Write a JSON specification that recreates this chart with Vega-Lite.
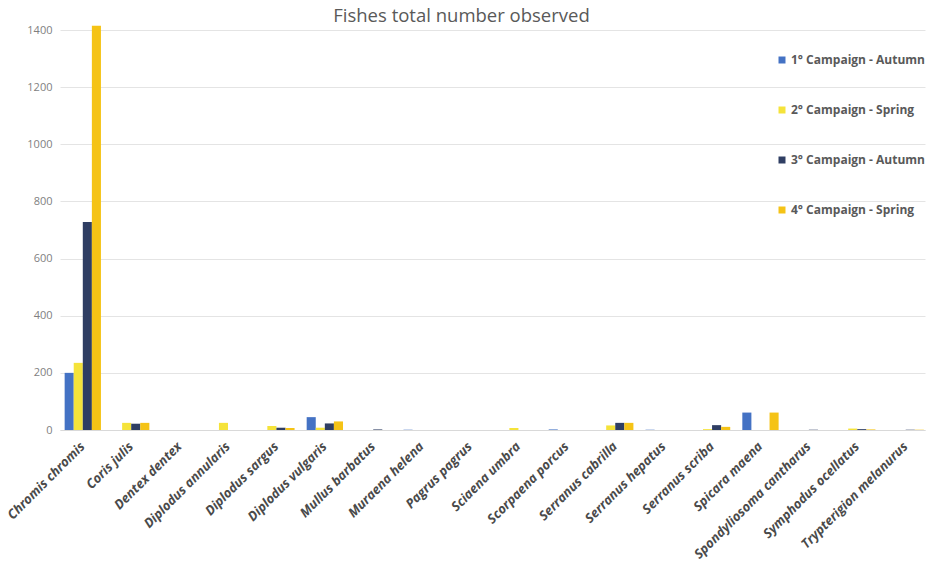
{
  "$schema": "https://vega.github.io/schema/vega-lite/v6.json",
  "autosize": "none",
  "padding": {"left": 60, "top": 30, "right": 3, "bottom": 138},
  "width": 865,
  "height": 400,
  "background": "white",
  "title": {"text": "Fishes total number observed", "fontSize": 18.5, "fontWeight": "normal", "color": "#595959", "font": "Open Sans", "anchor": "middle", "dx": -31, "offset": -1},
  "data": {"values": [
    {"species": "Chromis chromis", "campaign": "1° Campaign - Autumn", "n": 200},
    {"species": "Chromis chromis", "campaign": "2° Campaign - Spring", "n": 235},
    {"species": "Chromis chromis", "campaign": "3° Campaign - Autumn", "n": 728},
    {"species": "Chromis chromis", "campaign": "4° Campaign -  Spring", "n": 1415},
    {"species": "Coris julis", "campaign": "2° Campaign - Spring", "n": 25},
    {"species": "Coris julis", "campaign": "3° Campaign - Autumn", "n": 22},
    {"species": "Coris julis", "campaign": "4° Campaign -  Spring", "n": 25},
    {"species": "Dentex dentex", "campaign": "1° Campaign - Autumn", "n": 0},
    {"species": "Diplodus annularis", "campaign": "2° Campaign - Spring", "n": 25},
    {"species": "Diplodus sargus", "campaign": "2° Campaign - Spring", "n": 14},
    {"species": "Diplodus sargus", "campaign": "3° Campaign - Autumn", "n": 8},
    {"species": "Diplodus sargus", "campaign": "4° Campaign -  Spring", "n": 7},
    {"species": "Diplodus vulgaris", "campaign": "1° Campaign - Autumn", "n": 45},
    {"species": "Diplodus vulgaris", "campaign": "2° Campaign - Spring", "n": 8},
    {"species": "Diplodus vulgaris", "campaign": "3° Campaign - Autumn", "n": 23},
    {"species": "Diplodus vulgaris", "campaign": "4° Campaign -  Spring", "n": 30},
    {"species": "Mullus barbatus", "campaign": "3° Campaign - Autumn", "n": 2},
    {"species": "Muraena helena", "campaign": "1° Campaign - Autumn", "n": 1},
    {"species": "Pagrus pagrus", "campaign": "1° Campaign - Autumn", "n": 0},
    {"species": "Sciaena umbra", "campaign": "2° Campaign - Spring", "n": 7},
    {"species": "Scorpaena porcus", "campaign": "1° Campaign - Autumn", "n": 2},
    {"species": "Serranus cabrilla", "campaign": "2° Campaign - Spring", "n": 16},
    {"species": "Serranus cabrilla", "campaign": "3° Campaign - Autumn", "n": 25},
    {"species": "Serranus cabrilla", "campaign": "4° Campaign -  Spring", "n": 25},
    {"species": "Serranus hepatus", "campaign": "1° Campaign - Autumn", "n": 1},
    {"species": "Serranus scriba", "campaign": "2° Campaign - Spring", "n": 3},
    {"species": "Serranus scriba", "campaign": "3° Campaign - Autumn", "n": 17},
    {"species": "Serranus scriba", "campaign": "4° Campaign -  Spring", "n": 11},
    {"species": "Spicara maena", "campaign": "1° Campaign - Autumn", "n": 61},
    {"species": "Spicara maena", "campaign": "4° Campaign -  Spring", "n": 61},
    {"species": "Spondyliosoma cantharus", "campaign": "3° Campaign - Autumn", "n": 1},
    {"species": "Symphodus ocellatus", "campaign": "2° Campaign - Spring", "n": 5},
    {"species": "Symphodus ocellatus", "campaign": "3° Campaign - Autumn", "n": 3},
    {"species": "Symphodus ocellatus", "campaign": "4° Campaign -  Spring", "n": 2},
    {"species": "Trypterigion melanurus", "campaign": "3° Campaign - Autumn", "n": 1},
    {"species": "Trypterigion melanurus", "campaign": "4° Campaign -  Spring", "n": 1}
  ]},
  "mark": {"type": "bar"},
  "encoding": {
    "x": {
      "field": "species", "type": "nominal", "sort": null, "title": null,
      "scale": {"paddingInner": 0.25, "paddingOuter": 0.06, "align": 0.8},
      "axis": {"labelAngle": -45, "labelAlign": "right", "labelBaseline": "middle", "labelFontStyle": "italic", "labelFontWeight": "bold", "labelFontSize": 13, "labelColor": "#4a4a4a", "labelFont": "Open Sans", "ticks": false, "domain": true, "domainColor": "#d9d9d9", "labelPadding": 14, "labelLimit": 200}
    },
    "xOffset": {"field": "campaign", "type": "nominal", "sort": ["1° Campaign - Autumn", "2° Campaign - Spring", "3° Campaign - Autumn", "4° Campaign -  Spring"], "scale": {"domain": ["1° Campaign - Autumn", "2° Campaign - Spring", "3° Campaign - Autumn", "4° Campaign -  Spring"], "paddingInner": 0, "paddingOuter": 0}},
    "y": {
      "field": "n", "type": "quantitative", "title": null,
      "scale": {"domain": [0, 1400], "nice": false},
      "axis": {"values": [0, 200, 400, 600, 800, 1000, 1200, 1400], "format": "d", "domain": false, "ticks": false, "gridColor": "#e4e4e4", "labelColor": "#7f7f7f", "labelFontSize": 11, "labelFont": "Open Sans", "labelPadding": 8}
    },
    "color": {
      "field": "campaign", "type": "nominal", "title": null,
      "scale": {"domain": ["1° Campaign - Autumn", "2° Campaign - Spring", "3° Campaign - Autumn", "4° Campaign -  Spring"], "range": ["#4472C4", "#F5E33A", "#2F3E63", "#F5C316"]},
      "legend": {"orient": "none", "legendX": 716, "legendY": 24, "direction": "vertical", "symbolType": "square", "symbolSize": 49, "symbolStrokeWidth": 0, "labelFontSize": 12, "labelFontWeight": "bold", "labelColor": "#595959", "labelFont": "Open Sans", "rowPadding": 38, "labelOffset": 3, "labelLimit": 200}
    }
  },
  "config": {"view": {"stroke": null}}
}
